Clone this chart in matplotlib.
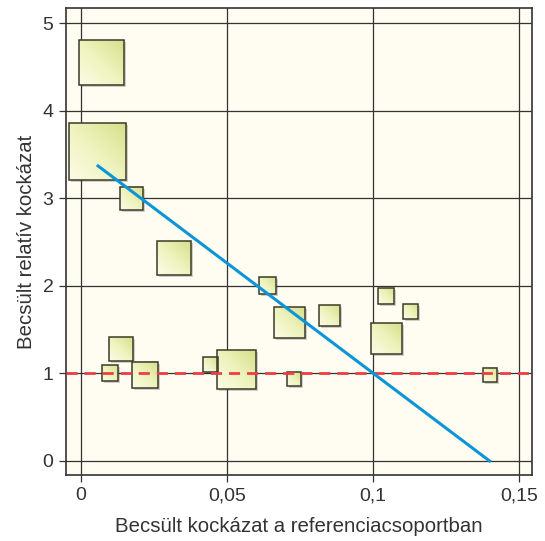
import numpy as np
import matplotlib
matplotlib.use("Agg")
from matplotlib import pyplot as plt
from matplotlib.patches import Rectangle
from matplotlib.colors import LinearSegmentedColormap

plt.rcParams['font.family'] = ['Liberation Sans', 'DejaVu Sans']

# becsült kockázat (x), relatív kockázat (y), négyzet mérete (súly)
kockazat = [0.007, 0.0056, 0.0172, 0.032, 0.0136, 0.0099, 0.0218, 0.0444, 0.0532,
            0.064, 0.0713, 0.0731, 0.0852, 0.1044, 0.1048, 0.1128, 0.140]
rel_kockazat = [4.55, 3.53, 3.0, 2.32, 1.28, 1.0, 0.98, 1.1, 1.05,
                2.0, 1.58, 0.94, 1.66, 1.88, 1.40, 1.71, 0.98]
suly = [45, 57, 23, 34, 24, 16, 26, 15, 39, 17, 31, 14, 21, 16, 31, 15, 14]

# illesztett egyenes
illesztes_x = [0.0058, 0.140]
illesztes_a = 3.514
illesztes_b = -25.1

x_ticks = [0, 0.05, 0.1, 0.15]
x_labels = ['0', '0,05', '0,1', '0,15']
y_ticks = [0, 1, 2, 3, 4, 5]

fig = plt.figure(figsize=(5.45, 5.41), dpi=100)
ax = fig.add_axes([0.121, 0.122, 0.855, 0.863])
ax.set_facecolor('#fffcf2')
ax.set_xlim(-0.0052, 0.1545)
ax.set_ylim(-0.16, 5.17)

ax.set_xticks(x_ticks)
ax.set_xticklabels(x_labels)
ax.set_yticks(y_ticks)
ax.grid(True, color='#333333', linewidth=0.9, zorder=1)
ax.set_axisbelow(True)
ax.tick_params(axis='both', labelsize=14, colors='#333333', labelcolor='#333333',
               length=5, width=0.9, pad=4)
for s in ax.spines.values():
    s.set_color('#333333')
    s.set_linewidth(1.2)

ax.set_xlabel('Becsült kockázat a referenciacsoportban', fontsize=14.7, color='#333333', labelpad=9)
ax.set_ylabel('Becsült relatív kockázat', fontsize=14.7, color='#333333', labelpad=5)

fig.canvas.draw()
grad = LinearSegmentedColormap.from_list('g', ['#fbfce6', '#eef3bd', '#d5e08a'])
gx, gy = np.meshgrid(np.linspace(0, 1, 40), np.linspace(0, 1, 40))
g = (gx + (1 - gy)) / 2

tr = ax.transData
for x, y, s in zip(kockazat, rel_kockazat, suly):
    cx, cy = tr.transform((x, y))
    (x0, y0) = tr.inverted().transform((cx - s / 2, cy - s / 2))
    (x1, y1) = tr.inverted().transform((cx + s / 2, cy + s / 2))
    (sx, sy) = tr.inverted().transform((cx + 2, cy - 2))
    dx, dy = sx - x, sy - y
    ax.add_patch(Rectangle((x0 + dx, y0 + dy), x1 - x0, y1 - y0, facecolor='#000000',
                           alpha=0.18, edgecolor='none', zorder=2))
    ax.imshow(g, cmap=grad, extent=(x0, x1, y0, y1), origin='upper', aspect='auto',
              zorder=3, interpolation='bilinear')
    ax.add_patch(Rectangle((x0, y0), x1 - x0, y1 - y0, facecolor='none',
                           edgecolor='#3a3a2a', linewidth=1.1, zorder=4))

ax.set_xlim(-0.0052, 0.1545)
ax.set_ylim(-0.16, 5.17)

ax.axhline(1, color='#ee3e44', linewidth=2, linestyle=(0, (4, 2.5)), zorder=5)
lx = np.array(illesztes_x)
ax.plot(lx, illesztes_a + illesztes_b * lx, color='#0a95d8', linewidth=2.2, zorder=6)

fig.savefig('out.png', dpi=100)
